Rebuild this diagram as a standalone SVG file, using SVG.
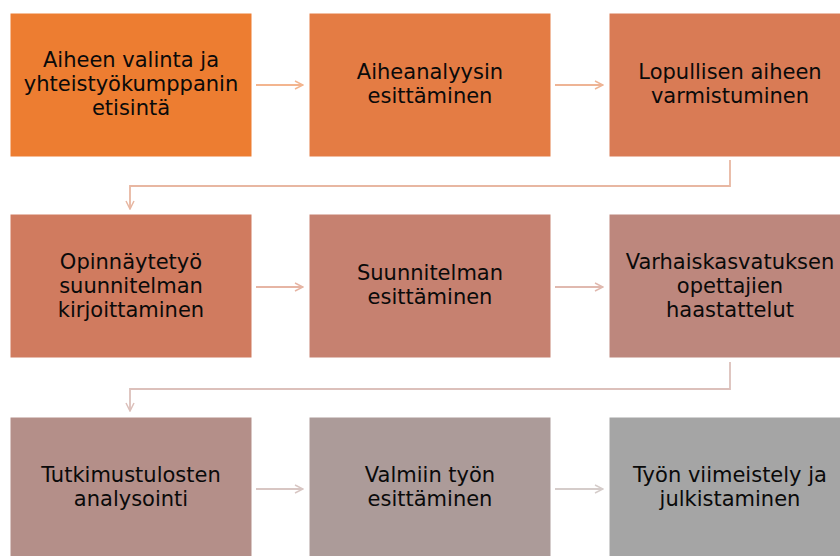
<svg xmlns="http://www.w3.org/2000/svg" width="840" height="556" viewBox="0 0 840 556">
<style>
.box{stroke:#ffffff;stroke-width:1}
.t{font-family:"DejaVu Sans","Open Sans",sans-serif;font-size:21px;fill:#0a0a0a;text-anchor:middle}
.c{fill:none;stroke-width:1.8}
</style>
<defs>
<marker id="ah" viewBox="0 0 10 10" refX="9" refY="5" markerWidth="10" markerHeight="10" markerUnits="userSpaceOnUse" orient="auto">
<path d="M1,1 L9,5 L1,9" fill="none" stroke="context-stroke" stroke-width="1.5"/>
</marker>
</defs>
<rect width="840" height="556" fill="#ffffff"/>
<g id="connectors">
<path class="c" d="M256,85 H303" stroke="#F3B58F" marker-end="url(#ah)"/>
<path class="c" d="M555,85 H603" stroke="#EEB495" marker-end="url(#ah)"/>
<path class="c" d="M730,160 V186 H130 V209" stroke="#E8B7A2" marker-end="url(#ah)"/>
<path class="c" d="M256,287 H303" stroke="#E6B5A4" marker-end="url(#ah)"/>
<path class="c" d="M555,287 H603" stroke="#E0B9AF" marker-end="url(#ah)"/>
<path class="c" d="M730,362 V389 H130 V411" stroke="#DCC0BB" marker-end="url(#ah)"/>
<path class="c" d="M256,489 H303" stroke="#D8C6C3" marker-end="url(#ah)"/>
<path class="c" d="M555,489 H603" stroke="#D5CCCA" marker-end="url(#ah)"/>
</g>
<g id="n1"><rect class="box" x="10" y="13" width="242" height="144" fill="#ED7D31"/>
<text class="t" x="131" y="67">Aiheen valinta ja</text><text class="t" x="131" y="91">yhteistyökumppanin</text><text class="t" x="131" y="115">etisintä</text></g>
<g id="n2"><rect class="box" x="309" y="13" width="242" height="144" fill="#E47C44"/>
<text class="t" x="430" y="79">Aiheanalyysin</text><text class="t" x="430" y="103">esittäminen</text></g>
<g id="n3"><rect class="box" x="609" y="13" width="242" height="144" fill="#D97B55"/>
<text class="t" x="730" y="79">Lopullisen aiheen</text><text class="t" x="730" y="103">varmistuminen</text></g>
<g id="n4"><rect class="box" x="10" y="214" width="242" height="144" fill="#D07B5F"/>
<text class="t" x="131" y="269">Opinnäytetyö</text><text class="t" x="131" y="293">suunnitelman</text><text class="t" x="131" y="317">kirjoittaminen</text></g>
<g id="n5"><rect class="box" x="309" y="214" width="242" height="144" fill="#C68170"/>
<text class="t" x="430" y="280">Suunnitelman</text><text class="t" x="430" y="304">esittäminen</text></g>
<g id="n6"><rect class="box" x="609" y="214" width="242" height="144" fill="#BD877D"/>
<text class="t" x="730" y="269">Varhaiskasvatuksen</text><text class="t" x="730" y="293">opettajien</text><text class="t" x="730" y="317">haastattelut</text></g>
<g id="n7"><rect class="box" x="10" y="417" width="242" height="144" fill="#B48F89"/>
<text class="t" x="131" y="482">Tutkimustulosten</text><text class="t" x="131" y="506">analysointi</text></g>
<g id="n8"><rect class="box" x="309" y="417" width="242" height="144" fill="#AC9B99"/>
<text class="t" x="430" y="482">Valmiin työn</text><text class="t" x="430" y="506">esittäminen</text></g>
<g id="n9"><rect class="box" x="609" y="417" width="242" height="144" fill="#A5A5A5"/>
<text class="t" x="730" y="482">Työn viimeistely ja</text><text class="t" x="730" y="506">julkistaminen</text></g>
</svg>
